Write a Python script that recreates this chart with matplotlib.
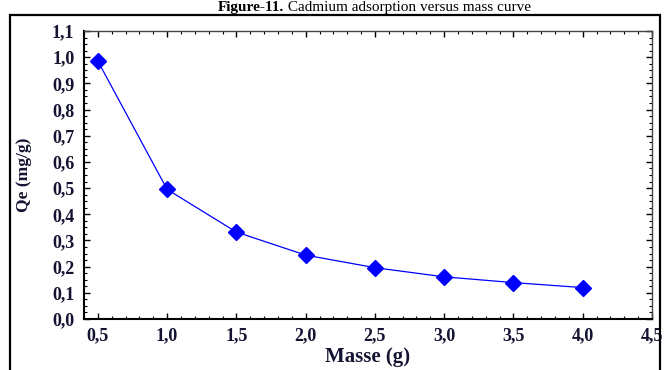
import matplotlib
matplotlib.use('Agg')
from matplotlib import pyplot as plt
from matplotlib.patches import Rectangle
from matplotlib.ticker import MultipleLocator
import numpy as np

# mass of adsorbent (g) and adsorbed cadmium (mg/g)
masse = [0.5, 1.0, 1.5, 2.0, 2.5, 3.0, 3.5, 4.0]
qe = [0.985, 0.495, 0.332, 0.244, 0.196, 0.161, 0.139, 0.120]

serif = 'Liberation Serif'
lbl_color = '#141432'

fig = plt.figure(figsize=(6.65, 3.70), dpi=100)
fig.set_facecolor('white')

# frame around the figure panel
fig.patches.append(Rectangle((10/665., -0.2), 650/665., 1.2 - 15/370., transform=fig.transFigure,
                             fill=False, edgecolor='black', linewidth=1.6))

# caption: bold figure number followed by plain text, centred as one line
t1 = fig.text(0, 1 - 11/370., 'Figure-11.', family=serif, fontsize=11, fontweight='bold',
              ha='left', va='baseline')
t2 = fig.text(0, 1 - 11/370., ' Cadmium adsorption versus mass curve', family=serif, fontsize=11,
              ha='left', va='baseline')
r = fig.canvas.get_renderer()
w1 = t1.get_window_extent(r).width
w2 = t2.get_window_extent(r).width
x0 = 374 - (w1 + w2) / 2.
t1.set_x(x0 / 665.)
t2.set_x((x0 + w1) / 665.)

ax1 = fig.add_axes([84/665., 1 - 319/370., (652-84)/665., (319-31)/370.])
ax1.plot(masse, qe, color='#0000ff', linewidth=0.9, marker='D', markersize=8.5,
         markerfacecolor='#0000ff', markeredgecolor='#0000ff')

ax1.set_xlim(0.4, 4.5)
ax1.set_ylim(0.0, 1.1)
ax1.xaxis.set_major_locator(MultipleLocator(0.5))
ax1.xaxis.set_minor_locator(MultipleLocator(0.1))
ax1.yaxis.set_major_locator(MultipleLocator(0.1))
ax1.yaxis.set_minor_locator(MultipleLocator(0.025))
fmt = lambda v, p: ('%.1f' % v).replace('.', ',')
ax1.xaxis.set_major_formatter(plt.FuncFormatter(fmt))
ax1.yaxis.set_major_formatter(plt.FuncFormatter(fmt))

ax1.tick_params(which='both', direction='in', top=True, right=True, color='black')
ax1.tick_params(which='major', length=4, width=1)
ax1.tick_params(axis='x', which='major', pad=6)
ax1.tick_params(axis='y', which='major', pad=7)
ax1.tick_params(which='minor', length=2.5, width=0.8)
for lab in ax1.get_xticklabels() + ax1.get_yticklabels():
    lab.set_family(serif)
    lab.set_fontweight('bold')
    lab.set_fontsize(13)
    lab.set_color(lbl_color)

for side in ['left', 'bottom']:
    ax1.spines[side].set_linewidth(1.5)
for side in ['top', 'right']:
    ax1.spines[side].set_linewidth(1.0)
    ax1.spines[side].set_color('#444444')

ax1.set_xlabel('Masse (g)', family=serif, fontsize=15, fontweight='bold', color=lbl_color, labelpad=2)
ax1.set_ylabel('Qe (mg/g)', family=serif, fontsize=12.5, fontweight='bold', color=lbl_color, labelpad=14)

fig.savefig('out.png', dpi=100, facecolor='white')
